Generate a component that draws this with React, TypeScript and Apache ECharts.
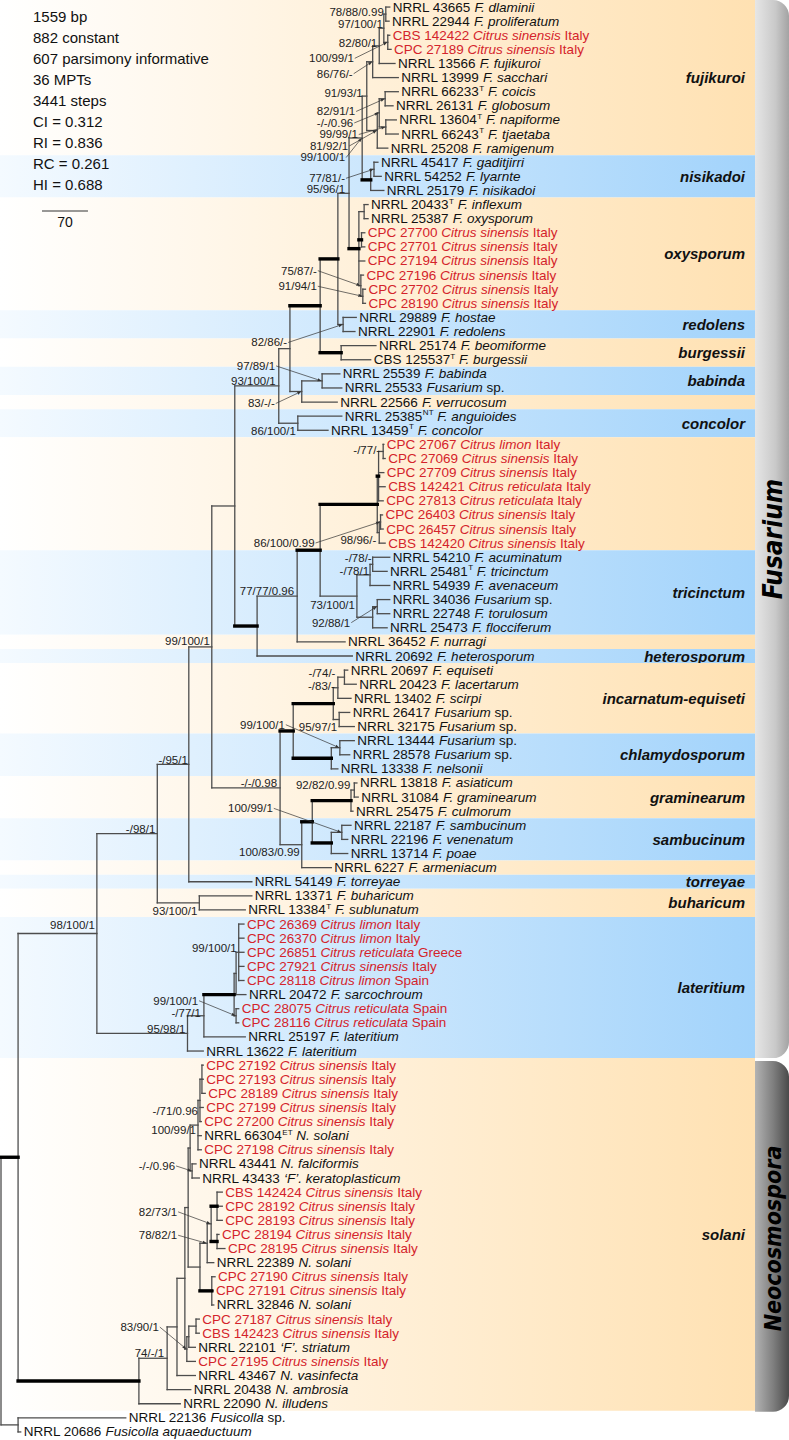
import React, { useEffect, useRef } from "react";
import * as echarts from "echarts";

const FONT = '"Liberation Sans", Arial, Helvetica, sans-serif';
const NARROW = '"Liberation Sans Narrow", "DejaVu Sans Condensed", "Liberation Sans", Arial, sans-serif';

// ---------- data ----------
const statsLines = ["1559 bp", "882 constant", "607 parsimony informative", "36 MPTs", "3441 steps", "CI = 0.312", "RI = 0.836", "RC = 0.261", "HI = 0.688"];
const scaleBarSteps = 70;

// strain, superscript, taxon/host, tail
const leaves: string[][] = [
  ["NRRL 43665", "", "F. dlaminii", ""],
  ["NRRL 22944", "", "F. proliferatum", ""],
  ["CBS 142422", "", "Citrus sinensis", "Italy"],
  ["CPC 27189", "", "Citrus sinensis", "Italy"],
  ["NRRL 13566", "", "F. fujikuroi", ""],
  ["NRRL 13999", "", "F. sacchari", ""],
  ["NRRL 66233", "T", "F. coicis", ""],
  ["NRRL 26131", "", "F. globosum", ""],
  ["NRRL 13604", "T", "F. napiforme", ""],
  ["NRRL 66243", "T", "F. tjaetaba", ""],
  ["NRRL 25208", "", "F. ramigenum", ""],
  ["NRRL 45417", "", "F. gaditjirri", ""],
  ["NRRL 54252", "", "F. lyarnte", ""],
  ["NRRL 25179", "", "F. nisikadoi", ""],
  ["NRRL 20433", "T", "F. inflexum", ""],
  ["NRRL 25387", "", "F. oxysporum", ""],
  ["CPC 27700", "", "Citrus sinensis", "Italy"],
  ["CPC 27701", "", "Citrus sinensis", "Italy"],
  ["CPC 27194", "", "Citrus sinensis", "Italy"],
  ["CPC 27196", "", "Citrus sinensis", "Italy"],
  ["CPC 27702", "", "Citrus sinensis", "Italy"],
  ["CPC 28190", "", "Citrus sinensis", "Italy"],
  ["NRRL 29889", "", "F. hostae", ""],
  ["NRRL 22901", "", "F. redolens", ""],
  ["NRRL 25174", "", "F. beomiforme", ""],
  ["CBS 125537", "T", "F. burgessii", ""],
  ["NRRL 25539", "", "F. babinda", ""],
  ["NRRL 25533", "", "Fusarium", "sp."],
  ["NRRL 22566", "", "F. verrucosum", ""],
  ["NRRL 25385", "NT", "F. anguioides", ""],
  ["NRRL 13459", "T", "F. concolor", ""],
  ["CPC 27067", "", "Citrus limon", "Italy"],
  ["CPC 27069", "", "Citrus sinensis", "Italy"],
  ["CPC 27709", "", "Citrus sinensis", "Italy"],
  ["CBS 142421", "", "Citrus reticulata", "Italy"],
  ["CPC 27813", "", "Citrus reticulata", "Italy"],
  ["CPC 26403", "", "Citrus sinensis", "Italy"],
  ["CPC 26457", "", "Citrus sinensis", "Italy"],
  ["CBS 142420", "", "Citrus sinensis", "Italy"],
  ["NRRL 54210", "", "F. acuminatum", ""],
  ["NRRL 25481", "T", "F. tricinctum", ""],
  ["NRRL 54939", "", "F. avenaceum", ""],
  ["NRRL 34036", "", "Fusarium", "sp."],
  ["NRRL 22748", "", "F. torulosum", ""],
  ["NRRL 25473", "", "F. flocciferum", ""],
  ["NRRL 36452", "", "F. nurragi", ""],
  ["NRRL 20692", "", "F. heterosporum", ""],
  ["NRRL 20697", "", "F. equiseti", ""],
  ["NRRL 20423", "", "F. lacertarum", ""],
  ["NRRL 13402", "", "F. scirpi", ""],
  ["NRRL 26417", "", "Fusarium", "sp."],
  ["NRRL 32175", "", "Fusarium", "sp."],
  ["NRRL 13444", "", "Fusarium", "sp."],
  ["NRRL 28578", "", "Fusarium", "sp."],
  ["NRRL 13338", "", "F. nelsonii", ""],
  ["NRRL 13818", "", "F. asiaticum", ""],
  ["NRRL 31084", "", "F. graminearum", ""],
  ["NRRL 25475", "", "F. culmorum", ""],
  ["NRRL 22187", "", "F. sambucinum", ""],
  ["NRRL 22196", "", "F. venenatum", ""],
  ["NRRL 13714", "", "F. poae", ""],
  ["NRRL 6227", "", "F. armeniacum", ""],
  ["NRRL 54149", "", "F. torreyae", ""],
  ["NRRL 13371", "", "F. buharicum", ""],
  ["NRRL 13384", "T", "F. sublunatum", ""],
  ["CPC 26369", "", "Citrus limon", "Italy"],
  ["CPC 26370", "", "Citrus limon", "Italy"],
  ["CPC 26851", "", "Citrus reticulata", "Greece"],
  ["CPC 27921", "", "Citrus sinensis", "Italy"],
  ["CPC 28118", "", "Citrus limon", "Spain"],
  ["NRRL 20472", "", "F. sarcochroum", ""],
  ["CPC 28075", "", "Citrus reticulata", "Spain"],
  ["CPC 28116", "", "Citrus reticulata", "Spain"],
  ["NRRL 25197", "", "F. lateritium", ""],
  ["NRRL 13622", "", "F. lateritium", ""],
  ["CPC 27192", "", "Citrus sinensis", "Italy"],
  ["CPC 27193", "", "Citrus sinensis", "Italy"],
  ["CPC 28189", "", "Citrus sinensis", "Italy"],
  ["CPC 27199", "", "Citrus sinensis", "Italy"],
  ["CPC 27200", "", "Citrus sinensis", "Italy"],
  ["NRRL 66304", "ET", "N. solani", ""],
  ["CPC 27198", "", "Citrus sinensis", "Italy"],
  ["NRRL 43441", "", "N. falciformis", ""],
  ["NRRL 43433", "", "\u2018F\u2019. keratoplasticum", ""],
  ["CBS 142424", "", "Citrus sinensis", "Italy"],
  ["CPC 28192", "", "Citrus sinensis", "Italy"],
  ["CPC 28193", "", "Citrus sinensis", "Italy"],
  ["CPC 28194", "", "Citrus sinensis", "Italy"],
  ["CPC 28195", "", "Citrus sinensis", "Italy"],
  ["NRRL 22389", "", "N. solani", ""],
  ["CPC 27190", "", "Citrus sinensis", "Italy"],
  ["CPC 27191", "", "Citrus sinensis", "Italy"],
  ["NRRL 32846", "", "N. solani", ""],
  ["CPC 27187", "", "Citrus sinensis", "Italy"],
  ["CBS 142423", "", "Citrus sinensis", "Italy"],
  ["NRRL 22101", "", "\u2018F\u2019. striatum", ""],
  ["CPC 27195", "", "Citrus sinensis", "Italy"],
  ["NRRL 43467", "", "N. vasinfecta", ""],
  ["NRRL 20438", "", "N. ambrosia", ""],
  ["NRRL 22090", "", "N. illudens", ""],
  ["NRRL 22136", "", "Fusicolla", "sp."],
  ["NRRL 20686", "", "Fusicolla aquaeductuum", ""],
];

const leafParent = [
  "Fdp", "Fdp", "Fcc", "Fcc", "F82", "F86", "Fcgl", "Fcgl", "Fnt", "Fnt",
  "Fcg", "Nga", "Nga", "Nis", "Ox1", "Ox1", "Ox2", "Ox2", "Oxy", "Ox5",
  "Ox4", "Ox4", "Red", "Red", "Bur", "Bur", "Bab", "Bab", "N83", "Con",
  "Con", "Cc1", "Cc1", "CitA", "CitA", "CitA", "Cc2", "Cc2", "CitB", "T2",
  "T2", "T1", "T4", "T4", "T3", "N297", "N257", "I2", "I2", "I1",
  "I95", "I95", "Ch1", "Ch1", "Chl", "G1", "G1", "Gra", "S1", "S1",
  "Sam", "N302", "N189", "Buh", "Buh", "L223", "L223", "L223", "L223", "L223",
  "L220", "L2", "L2", "L190", "Lat", "SA", "SA", "SA", "SB", "SB",
  "SC", "SC", "Sfk", "Sfk", "Sb", "Sb", "Sb", "Sc", "Sc", "Sd",
  "Sf", "Sf", "Sf", "Nc3", "Nc3", "N178", "N175", "N166", "N155", "Neo",
  "Fus", "Fus",
];

// cumulative path length (steps) from the root to each tip
const leafTip = [
  592, 591, 592, 594, 600, 605, 605, 597, 602, 605,
  589, 574, 579, 583, 559, 559, 554, 554, 554, 552,
  555, 555, 541, 539, 571, 563, 516, 519, 512, 519,
  498, 583, 585, 583, 585, 582, 581, 582, 585, 592,
  588, 592, 592, 592, 588, 524, 535, 528, 541, 533,
  531, 538, 538, 531, 513, 542, 544, 536, 533, 528,
  528, 503, 382, 382, 372, 370, 370, 370, 370, 370,
  373, 362, 362, 372, 308, 308, 308, 311, 308, 305,
  305, 305, 297, 302, 337, 337, 337, 332, 341, 324,
  326, 323, 324, 302, 302, 296, 296, 296, 289, 273,
  190, 30,
];

// internal node: id, parent, cumulative depth (steps)
const internalNodes: [string, string | null, number][] = [
  ["R", null, 0], ["N17", "R", 26], ["Fus", "R", 26],
  ["N98", "N17", 146], ["Neo", "N17", 210],
  ["N157", "N98", 238], ["Lat", "N98", 284],
  ["N189", "N157", 286], ["Buh", "N157", 302],
  ["N212", "N189", 321], ["N235", "N212", 356], ["N280", "N212", 425],
  ["N279", "N235", 423], ["N257", "N235", 390],
  ["N290", "N279", 440], ["Con", "N279", 452],
  ["N320", "N290", 486], ["N83", "N290", 458], ["Bab", "N83", 489],
  ["N82", "N320", 513], ["Bur", "N320", 518],
  ["N95", "N82", 530], ["Red", "N82", 521],
  ["Nfn", "N95", 550], ["Oxy", "N95", 545],
  ["Fuj", "Nfn", 557], ["Nis", "Nfn", 563], ["Nga", "Nis", 568],
  ["F86", "Fuj", 566], ["Fcg", "Fuj", 573], ["F82", "F86", 576], ["F97", "F82", 583],
  ["Fdp", "F97", 586], ["Fcc", "F97", 589],
  ["Fcgnt", "Fcg", 576], ["Fcgl", "Fcgnt", 585], ["Fnt", "Fcgnt", 586],
  ["Ox1", "Oxy", 553], ["Ox2", "Oxy", 549], ["Ox5", "Oxy", 548], ["Ox4", "Ox5", 551],
  ["N297", "N257", 451], ["N320b", "N297", 486],
  ["Cit", "N320b", 573], ["CitA", "Cit", 575], ["Cc1", "CitA", 582],
  ["CitB", "Cit", 576], ["Cc2", "CitB", 578],
  ["Tri", "N320b", 542], ["T1", "Tri", 562], ["T2", "T1", 566], ["T3", "Tri", 566], ["T4", "T3", 573],
  ["N293", "N280", 445], ["N302", "N280", 458],
  ["Inc", "N293", 506], ["Chl", "N293", 503],
  ["I1", "Inc", 513], ["I2", "I1", 523], ["I95", "Inc", 515], ["Ch1", "Chl", 516],
  ["N312", "N302", 474], ["Gra", "N312", 533], ["G1", "Gra", 538],
  ["Sam", "N312", 503], ["S1", "Sam", 519],
  ["L190", "Lat", 309], ["L218", "L190", 355], ["L220", "L218", 358],
  ["L223", "L220", 362], ["L2", "L218", 358],
  ["N155", "Neo", 253], ["N166", "N155", 268], ["N172", "N166", 280],
  ["Nx", "N172", 285], ["N175", "N172", 283], ["N178", "N175", 286], ["Nc3", "N178", 297],
  ["SD", "Nx", 288], ["Sfk", "SD", 291], ["SC", "SD", 300], ["SB", "SC", 303], ["SA", "SB", 306],
  ["Se", "Nx", 303], ["Sd", "Se", 314], ["Sa", "Sd", 320],
  ["Sb", "Sa", 329], ["Sc", "Sa", 329], ["Sf", "Se", 321],
];

// branches with strong support (drawn bold)
const thickStems = ["N17", "Neo", "N257", "N320", "N82", "Bur", "Oxy", "Nis", "Ox2", "N320b", "Cit", "CitA",
  "N293", "Inc", "Chl", "N312", "Gra", "Sam", "L218", "Sb", "Sc", "Sf"];

// support values: MP bootstrap / ML bootstrap / posterior probability
const supportLabels: [string, string][] = [
  ["78/88/0.99", "Fdp"], ["97/100/1", "F97"], ["82/80/1", "F82"], ["100/99/1", "Fcc"],
  ["86/76/-", "F86"], ["91/93/1", "Fuj"], ["82/91/1", "Fcgl"], ["-/-/0.96", "Fcgnt"],
  ["99/99/1", "Fnt"], ["81/92/1", "Fcg"], ["99/100/1", "Nfn"], ["77/81/-", "Nga"],
  ["95/96/1", "N95"], ["75/87/-", "Ox5"], ["91/94/1", "Ox4"], ["82/86/-", "Red"],
  ["97/89/1", "Bab"], ["93/100/1", "N279"], ["83/-/-", "N83"], ["86/100/1", "Con"],
  ["-/77/-", "Cc1"], ["86/100/0.99", "Cc2"], ["98/96/-", "CitB"], ["-/78/-", "T2"],
  ["-/78/1", "T1"], ["77/77/0.96", "N297"], ["73/100/1", "Tri"], ["92/88/1", "T4"],
  ["99/100/1", "N212"], ["-/74/-", "I2"], ["-/83/-", "I1"], ["99/100/1", "Ch1"],
  ["95/97/1", "I95"], ["-/-/0.98", "N280"], ["-/95/1", "N189"], ["92/82/0.99", "G1"],
  ["100/99/1", "S1"], ["-/98/1", "N157"], ["100/83/0.99", "N302"], ["93/100/1", "Buh"],
  ["98/100/1", "N98"], ["99/100/1", "L223"], ["99/100/1", "L2"], ["-/77/1", "L190"],
  ["95/98/1", "Lat"], ["-/71/0.96", "SB"], ["100/99/1", "SC"], ["-/-/0.96", "Sfk"],
  ["82/73/1", "Sa"], ["78/82/1", "Sd"], ["83/90/1", "N175"], ["74/-/1", "N155"],
];

// clade bands: label, first leaf, last leaf, colour family
const clades: [string, number, number, string][] = [
  ["fujikuroi", 1, 11, "o"], ["nisikadoi", 12, 14, "b"], ["oxysporum", 15, 22, "o"],
  ["redolens", 23, 24, "b"], ["burgessii", 25, 26, "o"], ["babinda", 27, 28, "b"],
  ["", 29, 29, "o"], ["concolor", 30, 31, "b"], ["", 32, 39, "o"],
  ["tricinctum", 40, 45, "b"], ["", 46, 46, "o"], ["heterosporum", 47, 47, "b"],
  ["incarnatum-equiseti", 48, 52, "o"], ["chlamydosporum", 53, 55, "b"],
  ["graminearum", 56, 58, "o"], ["sambucinum", 59, 61, "b"], ["", 62, 62, "o"],
  ["torreyae", 63, 63, "b"], ["buharicum", 64, 65, "o"], ["lateritium", 66, 75, "b"],
  ["solani", 76, 100, "o"],
];

const genera: [string, number, number][] = [["Fusarium", 1, 75], ["Neocosmospora", 76, 100]];

// ---------- layout (pixel offsets / styles) ----------
// label right-middle offset from its node (px), and whether a leader line is drawn
const supportOffsets: [number, number, number][] = [
  [-2, -2, 0], [-1, -4, 0], [-2, -3, 0], [-34, 16, 1],
  [-20, 12, 1], [-4, -3, 0], [-30, 12.7, 1], [-26, 10.1, 1],
  [-28, 7.5, 1], [-29, 15.5, 1], [-17, 19.5, 1], [-29, 9, 1],
  [-4, -4, 0], [-44, -15, 1], [-46, -10, 1], [-56, 18, 1],
  [-47, -15, 1], [-3, -5, 0], [-27, 12, 1], [-2, 8, 0],
  [-3, -1, 0], [-66, 21, 1], [-3, 7, 0], [-1, -6, 0],
  [-1, -4, 0], [-3, -5, 0], [-2, 9, 0], [-27, 16, 1],
  [-2, -6, 0], [-9, -4, 0], [-3, -2, 0], [-55, -23, 1],
  [-2, 7, 0], [-3, -5, 0], [-1, -4, 0], [-4, -5, 0],
  [-69, -24, 1], [-2, -5, 0], [-2, 7, 0], [-2, 8, 0],
  [-2, -9, 0], [-2, -4, 0], [-38, -15, 1], [-3, -3, 0],
  [-2, -4, 0], [-2, 11, 0], [-2, 5, 0], [-17, -5, 1],
  [-34, -12, 1], [-30, -8, 1], [-28, -22, 1], [-3, -5, 0],
];

const BAR_W = 34;
const RED = "#d4232b";
const INK = "#111111";

export default function App() {
  const ref = useRef<HTMLDivElement>(null);

  useEffect(() => {
    if (!ref.current) return;
    const chart = echarts.init(ref.current, null, { renderer: "svg" });

    // ---- build tree ----
    type TNode = { id: string; parent: string | null; depth: number; children: string[]; y: number; minY: number; maxY: number; leaf: boolean };
    const nodes = new Map<string, TNode>();
    internalNodes.forEach(([id, parent, depth]) =>
      nodes.set(id, { id, parent, depth, children: [], y: NaN, minY: NaN, maxY: NaN, leaf: false }));
    leaves.forEach((_, i) =>
      nodes.set("leaf:" + i, { id: "leaf:" + i, parent: leafParent[i], depth: leafTip[i], children: [], y: i, minY: i, maxY: i, leaf: true }));
    nodes.forEach((n) => {
      if (n.parent && nodes.has(n.parent)) nodes.get(n.parent)!.children.push(n.id);
    });
    const place = (id: string): number => {
      const n = nodes.get(id)!;
      if (n.leaf) return n.y;
      const ys = n.children.map(place);
      if (!ys.length) { n.y = 0; n.minY = 0; n.maxY = 0; return 0; }
      n.minY = Math.min(...ys);
      n.maxY = Math.max(...ys);
      n.y = (n.minY + n.maxY) / 2;
      return n.y;
    };
    place("R");

    const thin: number[][] = [];
    const thick: number[][] = [];
    nodes.forEach((n) => {
      if (n.parent && nodes.has(n.parent)) {
        const p = nodes.get(n.parent)!;
        (thickStems.includes(n.id) ? thick : thin).push([p.depth, n.y, n.depth, n.y]);
      }
      if (!n.leaf) thin.push([n.depth, n.minY, n.depth, n.maxY]);
    });

    const segRender = (w: number, color: string) => (params: any, api: any) => {
      const a = api.coord([api.value(0), api.value(1)]);
      const b = api.coord([api.value(2), api.value(3)]);
      return {
        type: "line",
        shape: { x1: a[0], y1: a[1], x2: b[0], y2: b[1] },
        style: { stroke: color, lineWidth: w, lineCap: "square" },
      };
    };

    const baseTok = { fontSize: 13.5, fontFamily: FONT, lineHeight: 15 };
    const rich: any = {};
    [["k", INK], ["r", RED]].forEach(([p, c]) => {
      rich[p + "n"] = { ...baseTok, fill: c, color: c };
      rich[p + "i"] = { ...baseTok, fontStyle: "italic", fill: c, color: c };
      rich[p + "s"] = { fontSize: 8, fontFamily: FONT, lineHeight: 8, verticalAlign: "top", fill: c, color: c };
    });
    const leafText = (l: string[]) => {
      const p = l[2].startsWith("Citrus") ? "r" : "k";
      let s = `{${p}n|${l[0]}}`;
      if (l[1]) s += `{${p}s|${l[1]}}`;
      if (l[3] === "sp.") {
        s += `{${p}i| ${l[2]}}{${p}n| sp.}`;
      } else {
        s += `{${p}i| ${l[2]}}`;
        if (l[3]) s += `{${p}n| ${l[3]}}`;
      }
      return s;
    };

    const supportData = supportLabels.map(([, id]) => {
      const n = nodes.get(id)!;
      return [n.depth, n.y];
    });

    const option: any = {
      animation: false,
      grid: { left: 1, right: 0, top: 0, bottom: 1 },
      xAxis: { type: "value", min: 0, max: 1200, show: false },
      yAxis: { type: "value", min: -0.5, max: leaves.length - 0.5, inverse: true, show: false },
      graphic: {
        elements: statsLines.map((t, k) => ({
          type: "text",
          x: 33,
          y: 16 + 21 * k,
          z: 20,
          style: { text: t, fontSize: 15, fontFamily: FONT, fill: INK, verticalAlign: "middle" },
        })),
      },
      series: [
        // clade bands
        {
          type: "custom",
          coordinateSystem: "cartesian2d",
          clip: false,
          silent: true,
          z: 1,
          data: clades.map((c) => [0, c[1] - 1]),
          renderItem: (params: any, api: any) => {
            const [name, a, b, kind] = clades[params.dataIndex];
            const cs = params.coordSys;
            const top = api.coord([0, a - 1 - 0.5])[1];
            const bot = api.coord([0, b - 1 + 0.5])[1];
            const right = cs.x + cs.width - BAR_W;
            const stops = kind === "o"
              ? [{ offset: 0, color: "#ffffff" }, { offset: 1, color: "#ffe1b2" }]
              : [{ offset: 0, color: "#f4faff" }, { offset: 1, color: "#a2d3fb" }];
            const children: any[] = [{
              type: "rect",
              shape: { x: 0, y: top, width: right, height: bot - top },
              style: { fill: new echarts.graphic.LinearGradient(0, 0, 1, 0, stops) },
            }];
            if (name) {
              children.push({
                type: "text",
                x: right - 10,
                y: (top + bot) / 2,
                style: { text: name, align: "right", verticalAlign: "middle", fontSize: 15, fontWeight: "bold", fontStyle: "italic", fontFamily: FONT, fill: INK },
              });
            }
            return { type: "group", children };
          },
        },
        // genus bars
        {
          type: "custom",
          coordinateSystem: "cartesian2d",
          clip: false,
          silent: true,
          z: 1,
          data: genera.map((g) => [0, g[1] - 1]),
          renderItem: (params: any, api: any) => {
            const [name, a, b] = genera[params.dataIndex];
            const cs = params.coordSys;
            const x = cs.x + cs.width - BAR_W;
            const top = api.coord([0, a - 1 - 0.5])[1] + (params.dataIndex === 0 ? 0 : 3);
            const bot = api.coord([0, b - 1 + 0.5])[1] + (params.dataIndex === 0 ? 0 : 1);
            const dark = params.dataIndex === 1;
            const stops = dark
              ? [{ offset: 0, color: "#b3b3b3" }, { offset: 0.55, color: "#7d7d7d" }, { offset: 1, color: "#4a4a4a" }]
              : [{ offset: 0, color: "#e6e6e6" }, { offset: 0.6, color: "#c9c9c9" }, { offset: 1, color: "#a3a3a3" }];
            return {
              type: "group",
              children: [
                {
                  type: "rect",
                  shape: { x, y: top, width: BAR_W, height: bot - top, r: [0, 16, 16, 0] },
                  style: { fill: new echarts.graphic.LinearGradient(0, 0, 1, 0, stops) },
                },
                {
                  type: "text",
                  x: x + BAR_W / 2 + 1,
                  y: (top + bot) / 2 + (dark ? 2 : 10),
                  rotation: Math.PI / 2,
                  style: {
                    text: name, align: "center", verticalAlign: "middle",
                    fontSize: dark ? 23 : 26, fontWeight: "bold", fontStyle: "italic", fontFamily: NARROW, fill: "#000",
                  },
                },
              ],
            };
          },
        },
        // thin branches
        {
          type: "custom", coordinateSystem: "cartesian2d", clip: false, silent: true, z: 3,
          data: thin, renderItem: segRender(1.3, "#4d4d4d"),
        },
        // bold branches
        {
          type: "custom", coordinateSystem: "cartesian2d", clip: false, silent: true, z: 4,
          data: thick, renderItem: segRender(3.4, "#000000"),
        },
        // tip labels
        {
          type: "custom", coordinateSystem: "cartesian2d", clip: false, silent: true, z: 5,
          data: leaves.map((_, i) => [leafTip[i], i]),
          renderItem: (params: any, api: any) => {
            const p = api.coord([api.value(0), api.value(1)]);
            return {
              type: "text",
              x: p[0] + 3,
              y: p[1],
              style: { text: leafText(leaves[params.dataIndex]), rich, align: "left", verticalAlign: "middle", fontSize: 13.5, fontFamily: FONT, fill: INK },
            };
          },
        },
        // support values
        {
          type: "custom", coordinateSystem: "cartesian2d", clip: false, silent: true, z: 6,
          data: supportData,
          renderItem: (params: any, api: any) => {
            const i = params.dataIndex;
            const p = api.coord([api.value(0), api.value(1)]);
            const [dx, dy, leader] = supportOffsets[i];
            const lx = p[0] + dx;
            const ly = p[1] + dy;
            const children: any[] = [{
              type: "text",
              x: lx,
              y: ly,
              style: { text: supportLabels[i][0], align: "right", verticalAlign: "middle", fontSize: 11.5, fontFamily: FONT, fill: "#222" },
            }];
            if (leader) {
              const sx = lx + 1, sy = ly;
              const ex = p[0] - 0.5, ey = p[1];
              const vx = ex - sx, vy = ey - sy;
              const len = Math.hypot(vx, vy) || 1;
              const ux = vx / len, uy = vy / len;
              const bx = ex - ux * 4, by = ey - uy * 4;
              children.push({ type: "line", shape: { x1: sx, y1: sy, x2: bx, y2: by }, style: { stroke: "#333", lineWidth: 0.7 } });
              children.push({
                type: "polygon",
                shape: { points: [[ex, ey], [bx - uy * 1.6, by + ux * 1.6], [bx + uy * 1.6, by - ux * 1.6]] },
                style: { fill: "#333" },
              });
            }
            return { type: "group", children };
          },
        },
        // scale bar
        {
          type: "custom", coordinateSystem: "cartesian2d", clip: false, silent: true, z: 6,
          data: [[0, 0]],
          renderItem: (params: any, api: any) => {
            const len = api.size([scaleBarSteps, 0])[0];
            const x0 = 42, y0 = 211;
            return {
              type: "group",
              children: [
                { type: "line", shape: { x1: x0, y1: y0, x2: x0 + len, y2: y0 }, style: { stroke: "#333", lineWidth: 1.2 } },
                { type: "text", x: x0 + len / 2, y: y0 + 11, style: { text: String(scaleBarSteps), align: "center", verticalAlign: "middle", fontSize: 14, fontFamily: FONT, fill: INK } },
              ],
            };
          },
        },
      ],
    };

    chart.setOption(option);
    return () => chart.dispose();
  }, []);

  return <div ref={ref} style={{ position: "absolute", left: 0, top: 0, width: 789, height: 1440 }} />;
}
